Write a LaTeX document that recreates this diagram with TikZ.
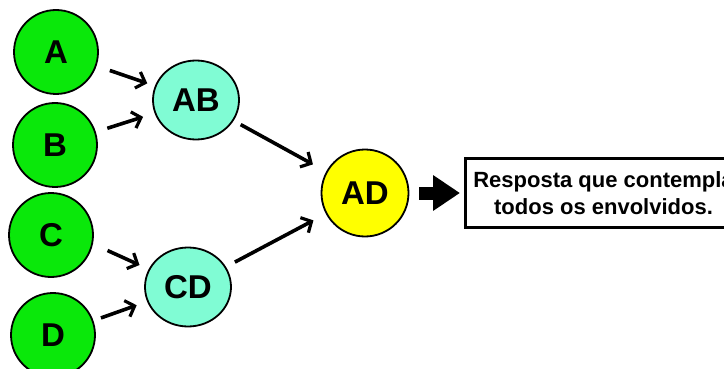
\documentclass[tikz,border=0pt]{standalone}
\usepackage{fontspec}
\setmainfont{Liberation Sans}
\usetikzlibrary{arrows.meta,shapes.geometric}
\definecolor{leafgreen}{RGB}{10,232,10}
\definecolor{pairaqua}{RGB}{128,252,212}
\definecolor{rootyellow}{RGB}{255,255,0}
\begin{document}
\begin{tikzpicture}[x=1pt,y=-1pt,
  leaf/.style={circle,draw=black,line width=1.8pt,fill=leafgreen,
    minimum size=84pt,inner sep=0pt,font=\fontsize{33}{36}\selectfont\bfseries},
  pair/.style={ellipse,draw=black,line width=1.8pt,fill=pairaqua,
    minimum width=86pt,minimum height=79pt,inner sep=0pt,font=\fontsize{33}{36}\selectfont\bfseries},
  root/.style={circle,draw=black,line width=1.8pt,fill=rootyellow,
    minimum size=87pt,inner sep=0pt,font=\fontsize{33}{36}\selectfont\bfseries},
  resultbox/.style={rectangle,draw=black,line width=3pt,fill=white,
    minimum width=276pt,minimum height=68pt,inner sep=0pt,align=center,
    font=\fontsize{22}{27}\selectfont\bfseries},
  link/.style={line width=3.6pt,-{Straight Barb[length=8pt,width=17pt,line width=3.2pt]}},
  bigarrow/.style={line width=13pt,-{Triangle[length=27pt,width=34pt]}}
]
\useasboundingbox (0,0) rectangle (724,369);
\clip (0,0) rectangle (724,369);

% leaves
\node[leaf] (A) at (56,52) {A};
\node[leaf] (B) at (55,145) {B};
\node[leaf] (C) at (51,235) {C};
\node[leaf] (D) at (53,335) {D};

% merged pairs
\node[pair] (AB) at (196,100) {AB};
\node[pair] (CD) at (188,287) {CD};

% final merge
\node[root] (AD) at (365,193) {AD};

% result
\node[resultbox,anchor=west] (R) at (464,193) {Resposta que contempla\\todos os envolvidos.};

% connectors
\draw[link,shorten <=14pt,shorten >=8pt] (A) -- (AB);
\draw[link,shorten <=12pt,shorten >=12pt] (B) -- (AB);
\draw[link,shorten <=16pt,shorten >=10pt] (C.-12) -- (CD);
\draw[link,shorten <=8pt,shorten >=11pt] (D) -- (CD);
\draw[link,shorten <=8pt,shorten >=15pt] (AB) -- (AD);
\draw[link,shorten <=10pt,shorten >=14pt] (CD) -- (AD);
\draw[bigarrow,shorten <=10pt,shorten >=4pt] (AD) -- (R);
\end{tikzpicture}
\end{document}
